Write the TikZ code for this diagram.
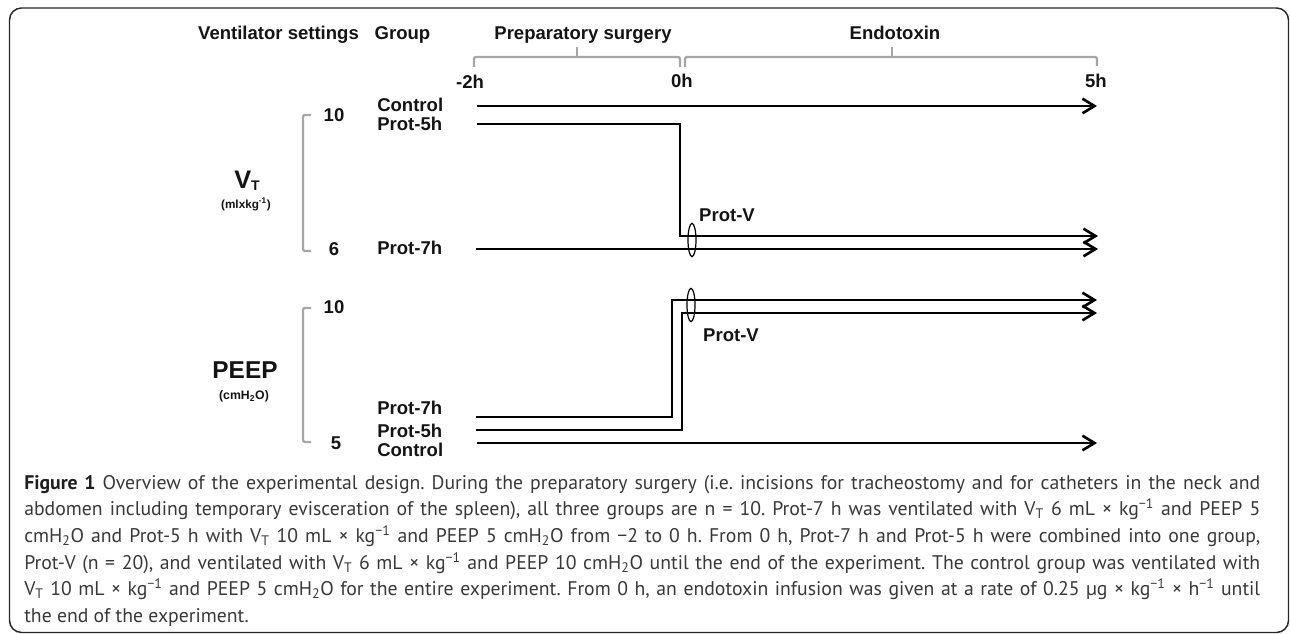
\documentclass[tikz,border=0pt]{standalone}
\usepackage{fontspec}
\setmainfont{Liberation Sans}
\newfontfamily\capfont{PT Sans}
\usetikzlibrary{arrows.meta,shapes.geometric}
\begin{document}
\begin{tikzpicture}[x=0.75pt,y=-0.75pt,
  lbl/.style={font=\fontsize{13.9}{16}\selectfont\bfseries, text=black!92, inner sep=0pt, text depth=0pt},
  grp/.style={lbl, anchor=west},
  flow/.style={line width=2.2pt, line join=miter, -{Straight Barb[length=9pt,width=11pt,line width=2pt]}},
  brk/.style={draw=black!35, line width=1.7pt, rounded corners=1.5pt},
  ring/.style={draw, ellipse, line width=0.9pt, minimum width=6pt, minimum height=25pt, inner sep=0pt},
  frame/.style={draw=black!85, line width=1.1pt, rounded corners=9pt}
]
\useasboundingbox (0,0) rectangle (1290,634);
\draw[frame] (9.5,8) rectangle (1288.5,632.5);

% headings
\node[lbl] (hvent) at (278.5,33) {Ventilator settings};
\node[lbl] (hgroup) at (402.5,33) {Group};
\node[lbl] (hprep) at (583,33) {Preparatory surgery};
\node[lbl] (hendo) at (895,33) {Endotoxin};

% braces
\draw[brk] (474,67) -- (474,57) -- (680,57) -- (680,67);
\draw[brk] (577,57) -- (577,47);
\draw[brk] (685,67) -- (685,57) -- (1097,57) -- (1097,66);
\draw[brk] (892,57) -- (892,47);

% time labels
\node[lbl] (tm2) at (470,82) {-2h};
\node[lbl] (t0) at (682,81) {0h};
\node[lbl] (t5) at (1096,81) {5h};

% setting brackets
\draw[brk] (311,115) -- (303,115) -- (303,251) -- (311,251);
\draw[brk] (311,308) -- (303,308) -- (303,442) -- (311,442);

% setting names
\node[lbl, inner sep=0pt] (vt) at (247,180) {{\fontsize{19}{20}\selectfont V}{\fontsize{10.5}{12}\selectfont\raisebox{-1.6pt}{T}}};
\node[lbl] (vtu) at (246,203) {\fontsize{8.8}{10}\selectfont (mlxkg\textsuperscript{-1})};
\node[lbl] (peep) at (245,370) {\fontsize{18.3}{20}\selectfont PEEP};
\node[lbl] (peepu) at (244,395) {\fontsize{9.2}{10}\selectfont (cmH\textsubscript{2}O)};

% values
\node[lbl] (v10) at (334,115) {10};
\node[lbl] (v6) at (334,249) {6};
\node[lbl] (p10) at (334,307) {10};
\node[lbl] (p5) at (336,443) {5};

% group labels
\node[grp] (gcT) at (377,105) {Control};
\node[grp] (g5T) at (377,124) {Prot-5h};
\node[grp] (g7T) at (377,248) {Prot-7h};
\node[grp] (g7P) at (377,408) {Prot-7h};
\node[grp] (g5P) at (377,431) {Prot-5h};
\node[grp] (gcP) at (377,450) {Control};

% line end points
\coordinate (cTs) at (477,106);  \coordinate (cTe) at (1097,106);
\coordinate (p5Ts) at (477,124); \coordinate (p5Tk) at (680,236); \coordinate (p5Te) at (1098,236);
\coordinate (p7Ts) at (476,249); \coordinate (p7Te) at (1098,249);
\coordinate (p7Ps) at (476,417); \coordinate (p7Pk) at (672,300); \coordinate (p7Pe) at (1097,300);
\coordinate (p5Ps) at (476,430); \coordinate (p5Pk) at (682,313); \coordinate (p5Pe) at (1097,313);
\coordinate (cPs) at (477,443);  \coordinate (cPe) at (1097,443);

\draw[flow] (cTs) -- (cTe);
\draw[flow] (p5Ts) -| (p5Tk) -- (p5Te);
\draw[flow] (p7Ts) -- (p7Te);
\draw[flow] (p7Ps) -| (p7Pk) -- (p7Pe);
\draw[flow] (p5Ps) -| (p5Pk) -- (p5Pe);
\draw[flow] (cPs) -- (cPe);

% Prot-V groupings
\node[ring] (ringT) at (692,240) {};
\node[ring] (ringP) at (691,305) {};
\node[lbl] (pvT) at (727,215) {Prot-V};
\node[lbl] (pvP) at (731,335) {Prot-V};

% caption
\node[anchor=north west, inner sep=0pt, text width=927pt, align=justify, text=black!78,
      font=\capfont\fontsize{14.8}{19.95}\selectfont] (cap) at (24,475)
{\frenchspacing\hyphenpenalty=10000\exhyphenpenalty=10000\tolerance=10000%
\textbf{\color{black!88}Figure 1} Overview of the experimental design. During the preparatory surgery (i.e. incisions for tracheostomy and for catheters in the neck and\linebreak
abdomen including temporary evisceration of the spleen), all three groups are n = 10. Prot-7 h was ventilated with V\textsubscript{T} 6 mL × kg\textsuperscript{−1} and PEEP 5\linebreak
cmH\textsubscript{2}O and Prot-5 h with V\textsubscript{T} 10 mL × kg\textsuperscript{−1} and PEEP 5 cmH\textsubscript{2}O from −2 to 0 h. From 0 h, Prot-7 h and Prot-5 h were combined into one group,\linebreak
Prot-V (n = 20), and ventilated with V\textsubscript{T} 6 mL × kg\textsuperscript{−1} and PEEP 10 cmH\textsubscript{2}O until the end of the experiment. The control group was ventilated with\linebreak
V\textsubscript{T} 10 mL × kg\textsuperscript{−1} and PEEP 5 cmH\textsubscript{2}O for the entire experiment. From 0 h, an endotoxin infusion was given at a rate of 0.25 µg × kg\textsuperscript{−1} × h\textsuperscript{−1} until\linebreak
the end of the experiment.};
\end{tikzpicture}
\end{document}
